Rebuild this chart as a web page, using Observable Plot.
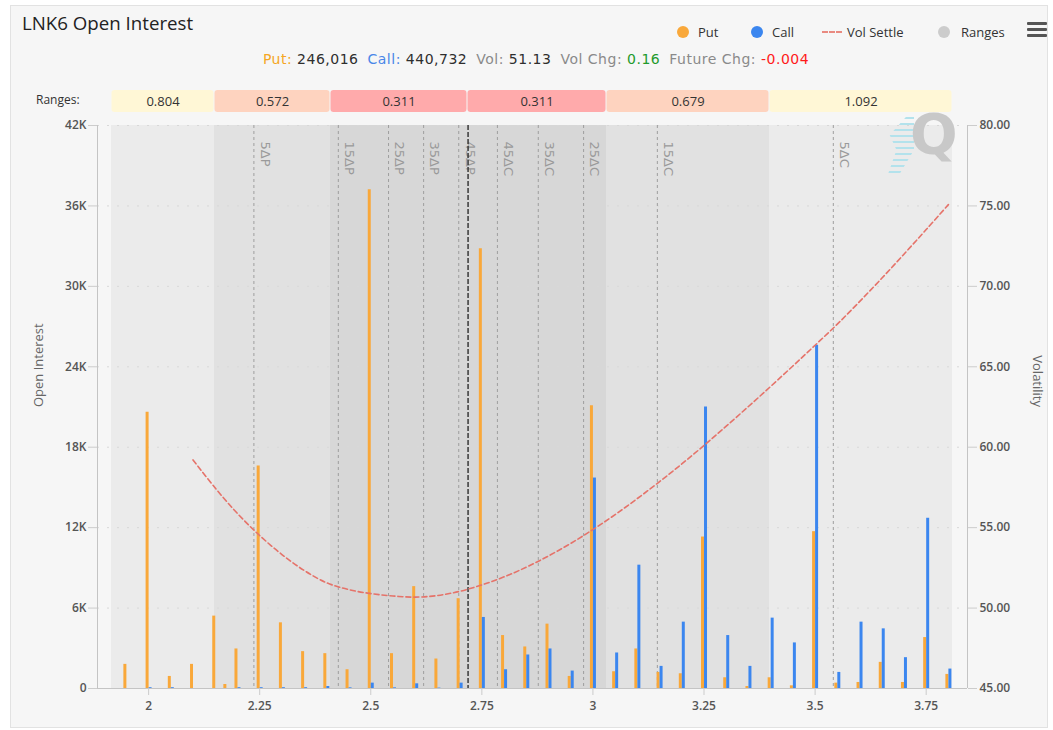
<!DOCTYPE html>
<html>
<head>
<meta charset="utf-8">
<script src="https://cdn.jsdelivr.net/npm/d3@7"></script>
<script src="https://cdn.jsdelivr.net/npm/@observablehq/plot@0.6"></script>
<style>
  body { margin: 0; background: #ffffff; font-family: "Open Sans", sans-serif; }
  #wrap { position: relative; width: 1053px; height: 730px; overflow: hidden; }
  #panel { position: absolute; left: 10px; top: 5px; width: 1038px; height: 723px; background: #f6f6f6; border: 1px solid #e2e2e2; box-sizing: border-box; }
  .abs { position: absolute; white-space: nowrap; }
  .title { left: 22px; top: 12px; font-size: 18.7px; line-height: 22px; color: #222; }
  .leg { top: 24px; font-size: 13px; line-height: 16px; color: #333; }
  .dot { position: absolute; width: 12px; height: 12px; border-radius: 50%; }
  .sub { top: 51px; left: 536px; transform: translateX(-50%); font-family: "DejaVu Sans", sans-serif; font-size: 14px; letter-spacing: 0.5px; line-height: 17px; color: #333; }
  .burger { position: absolute; left: 1027px; width: 20px; height: 3px; background: #555; border-radius: 1px; }
  #ranges { position: absolute; left: 0; top: 88px; }
  #main { position: absolute; left: 0; top: 114px; }
  .rlabel { left: 36px; top: 92px; font-size: 12px; line-height: 16px; color: #333; }
  .q { left: 910px; top: 104px; font-size: 56px; font-weight: 700; line-height: 60px; color: #c8c8c8; font-family: "DejaVu Sans", sans-serif; }
  .speed { position: absolute; left: 887px; top: 117px; width: 27px; height: 60px;
           background: repeating-linear-gradient(to bottom, #b3e2ec 0 2px, transparent 2px 6px);
           clip-path: polygon(70% 0, 100% 0, 100% 55%, 40% 100%, 0 100%, 35% 55%, 10% 30%); }
</style>
</head>
<body>
<div id="wrap">
  <div id="panel"></div>
  <div class="abs title">LNK6 Open Interest</div>

  <div class="dot" style="left:677px;top:26px;background:#f9a83a"></div>
  <div class="abs leg" style="left:698px">Put</div>
  <div class="dot" style="left:751px;top:26px;background:#3b86ef"></div>
  <div class="abs leg" style="left:772px">Call</div>
  <div class="abs" style="left:822px;top:31px;width:20px;border-top:2px dashed #e98a80"></div>
  <div class="abs leg" style="left:847px">Vol Settle</div>
  <div class="dot" style="left:938px;top:26px;background:#cccccc"></div>
  <div class="abs leg" style="left:961px">Ranges</div>
  <div class="burger" style="top:22px"></div>
  <div class="burger" style="top:28px"></div>
  <div class="burger" style="top:34px"></div>

  <div class="abs sub" id="sub"></div>
  <div class="abs rlabel">Ranges:</div>
  <div id="ranges"></div>
  <div id="main"></div>
  <div class="speed"></div>
  <div class="abs q">Q</div>
</div>
<script>
// ---------- data ----------
const strikes = [1.95, 2.0, 2.05, 2.1, 2.15, 2.175, 2.2, 2.25, 2.3, 2.35, 2.4, 2.45, 2.5, 2.55, 2.6, 2.65, 2.7, 2.75, 2.8, 2.85, 2.9, 2.95, 3.0, 3.05, 3.1, 3.15, 3.2, 3.25, 3.3, 3.35, 3.4, 3.45, 3.5, 3.55, 3.6, 3.65, 3.7, 3.75, 3.8];
const putOI = [1800, 20600, 900, 1800, 5400, 300, 2950, 16600, 4900, 2750, 2600, 1400, 37200, 2600, 7600, 2200, 6700, 32800, 3950, 3100, 4800, 900, 21100, 1250, 2950, 1200, 1100, 11300, 800, 150, 800, 200, 11700, 400, 450, 1950, 450, 3800, 1050];
const callOI = [0, 60, 60, 0, 0, 0, 60, 60, 60, 60, 150, 50, 400, 50, 350, 30, 400, 5300, 1400, 2500, 2950, 1300, 15700, 2650, 9200, 1650, 4950, 21000, 3950, 1650, 5250, 3400, 25600, 1200, 4950, 4450, 2300, 12700, 1450];

const volStrikes = [2.1, 2.15, 2.2, 2.25, 2.3, 2.35, 2.4, 2.45, 2.5, 2.55, 2.6, 2.65, 2.7, 2.75, 2.8, 2.85, 2.9, 2.95, 3.0, 3.05, 3.1, 3.15, 3.2, 3.25, 3.3, 3.35, 3.4, 3.45, 3.5, 3.55, 3.6, 3.65, 3.7, 3.75, 3.8];
const volSettle = [59.21, 57.46, 55.88, 54.51, 53.33, 52.34, 51.58, 51.15, 50.90, 50.75, 50.68, 50.78, 51.04, 51.44, 51.94, 52.54, 53.24, 54.02, 54.88, 55.81, 56.81, 57.86, 58.96, 60.11, 61.31, 62.53, 63.78, 65.05, 66.34, 67.65, 69.05, 70.50, 72.00, 73.53, 75.08];

const deltaLabels = ["5ΔP", "15ΔP", "25ΔP", "35ΔP", "45ΔP", "45ΔC", "35ΔC", "25ΔC", "15ΔC", "5ΔC"];
const deltaStrikes = [2.237, 2.427, 2.540, 2.619, 2.698, 2.785, 2.877, 2.979, 3.145, 3.541];
const futurePrice = 2.719;

const rangeBounds = [1.9165, 2.1483, 2.4094, 2.7177, 3.0306, 3.3974, 3.8093];
const rangeValues = [0.804, 0.572, 0.311, 0.311, 0.679, 1.092];

const oiTicks = [0, 6000, 12000, 18000, 24000, 30000, 36000, 42000];
const volTicks = [45, 50, 55, 60, 65, 70, 75, 80];
const xTicks = [2, 2.25, 2.5, 2.75, 3, 3.25, 3.5, 3.75];

const summary = [
  ["Put: ", "#f5a623"], ["246,016", "#2e2e2e"],
  ["Call: ", "#4a86e8"], ["440,732", "#2e2e2e"],
  ["Vol: ", "#8a8a8a"], ["51.13", "#2e2e2e"],
  ["Vol Chg: ", "#8a8a8a"], ["0.16", "#1f9a2c"],
  ["Future Chg: ", "#8a8a8a"], ["-0.004", "#ff1a1a"]
];

// ---------- derived tables ----------
const rows = strikes.map((s, i) => ({strike: s, put: putOI[i], call: callOI[i]}));
const volRows = volStrikes.map((s, i) => ({strike: s, vol: volSettle[i]}));
const rangeRows = rangeValues.map((v, i) => ({x1: rangeBounds[i], x2: rangeBounds[i + 1], value: v}));
const deltaRows = deltaStrikes.map((s, i) => ({strike: s, label: deltaLabels[i]}));

const boxColor = v => v < 0.4 ? "#ffaaab" : v < 0.75 ? "#fed3bf" : "#fff7d6";
const bandColor = v => v < 0.4 ? "#d7d7d7" : v < 0.75 ? "#e1e1e1" : "#ebebeb";

const xDomain = [1.885, 3.843];
const volMin = volTicks[0], volMax = volTicks[volTicks.length - 1];
const oiMax = oiTicks[oiTicks.length - 1];
const volToOI = v => (v - volMin) / (volMax - volMin) * oiMax;
const oiToVol = d => d / oiMax * (volMax - volMin) + volMin;

// subtitle
const sub = document.getElementById("sub");
summary.forEach(([t, c], i) => {
  const s = document.createElement("span");
  s.textContent = t;
  s.style.color = c;
  if (i % 2 === 1 && i < summary.length - 1) s.style.marginRight = "9px";
  sub.appendChild(s);
});

// ---------- ranges row ----------
const rangesPlot = Plot.plot({
  width: 1053, height: 26,
  marginLeft: 97, marginRight: 86, marginTop: 0, marginBottom: 0,
  style: {background: "transparent", fontFamily: "Open Sans", fontSize: "13px"},
  x: {domain: xDomain, axis: null},
  color: {type: "identity"},
  marks: [
    Plot.rect(rangeRows, {x1: "x1", x2: "x2", fill: d => boxColor(d.value), rx: 3, insetTop: 2, insetBottom: 2, insetLeft: 0.5, insetRight: 0.5}),
    Plot.text(rangeRows, {x: d => (d.x1 + d.x2) / 2, text: d => d.value.toFixed(3), fill: "#333", fontSize: 13})
  ]
});
document.getElementById("ranges").appendChild(rangesPlot);

// ---------- main chart ----------
const mainPlot = Plot.plot({
  width: 1053, height: 614,
  marginLeft: 97, marginRight: 86, marginTop: 11, marginBottom: 40,
  style: {background: "transparent", fontFamily: "Open Sans", fontSize: "12px", color: "#555"},
  x: {domain: xDomain, axis: null},
  y: {domain: [0, oiMax], axis: null},
  color: {type: "identity"},
  marks: [
    Plot.rect(rangeRows, {x1: "x1", x2: "x2", fill: d => bandColor(d.value)}),
    Plot.ruleY(oiTicks.slice(1), {stroke: "#d8d8d8", strokeDasharray: "2,8"}),
    Plot.ruleX(deltaRows, {x: "strike", stroke: "#9e9e9e", strokeDasharray: "3,3"}),
    Plot.text(deltaRows, {x: "strike", text: "label", frameAnchor: "top", rotate: 90, textAnchor: "start", dx: 16, dy: 16, fill: "#9a9a9a", fontSize: 13, fontFamily: "DejaVu Sans"}),
    Plot.ruleX([futurePrice], {stroke: "#3a3a3a", strokeWidth: 1.5, strokeDasharray: "5,2"}),
    Plot.ruleX(rows, {x: "strike", y1: 0, y2: "put", stroke: "#f9a83a", strokeWidth: 3, dx: -1.5}),
    Plot.ruleX(rows, {x: "strike", y1: 0, y2: "call", stroke: "#3b86ef", strokeWidth: 3, dx: 1.5}),
    Plot.line(volRows, {x: "strike", y: d => volToOI(d.vol), stroke: "#e5736a", strokeWidth: 1.6, strokeDasharray: "5,3", curve: "catmull-rom"}),
    // axis lines
    Plot.ruleY([0], {stroke: "#c4c4c4"}),
    Plot.ruleX([xDomain[0]], {stroke: "#c4c4c4"}),
    Plot.ruleX([xDomain[1]], {stroke: "#c4c4c4"}),
    // axes
    Plot.axisY(oiTicks, {anchor: "left", tickSize: 9, tickPadding: 2, stroke: "#cccccc", fill: "#555", fontWeight: 600, fontSize: 12,
      tickFormat: d => d === 0 ? "0" : (d / 1000) + "K", label: null}),
    Plot.axisY(volTicks.map(volToOI), {anchor: "right", tickSize: 9, tickPadding: 3, stroke: "#cccccc", fill: "#555", fontWeight: 600, fontSize: 12,
      tickFormat: d => oiToVol(d).toFixed(2), label: null}),
    Plot.axisX(xTicks, {anchor: "bottom", tickSize: 7, tickPadding: 6, stroke: "#cccccc", fill: "#555", fontWeight: 600, fontSize: 12,
      tickFormat: d => String(d), label: null}),
    Plot.text(["Open Interest"], {frameAnchor: "left", rotate: -90, dx: -59, fill: "#666", fontSize: 13}),
    Plot.text(["Volatility"], {frameAnchor: "right", rotate: 90, dx: 70, fill: "#666", fontSize: 13})
  ]
});
document.getElementById("main").appendChild(mainPlot);
</script>
</body>
</html>
